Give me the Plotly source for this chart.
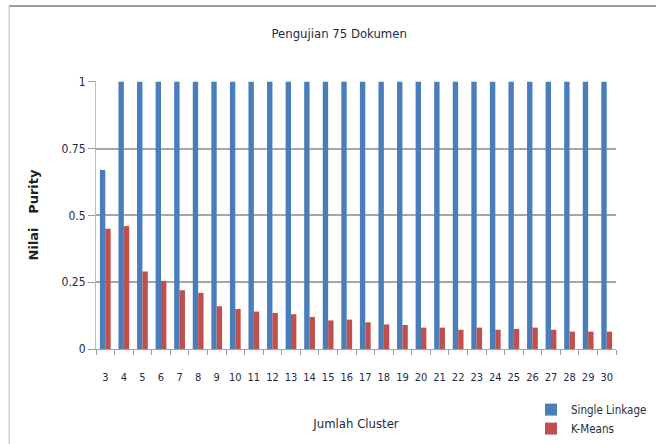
import plotly.graph_objects as go

clusters = [str(k) for k in range(3, 31)]
single_linkage = [0.67] + [1.0] * 27
k_means = [0.45, 0.46, 0.29, 0.255, 0.22, 0.21, 0.16, 0.15, 0.14, 0.135,
           0.13, 0.12, 0.107, 0.11, 0.1, 0.092, 0.09, 0.08, 0.08, 0.072,
           0.08, 0.072, 0.075, 0.08, 0.072, 0.065, 0.065, 0.065]
y_ticks = [0, 0.25, 0.5, 0.75, 1]
y_labels = ["0", "0.25", "0.5", "0.75", "1"]

font_family = "DejaVu Sans Condensed, Liberation Sans Narrow, sans-serif"
text_color = "#1f2a44"

fig = go.Figure()
fig.add_trace(go.Bar(x=clusters, y=single_linkage, name="Single Linkage",
                     marker=dict(color="#4a7ebb", line=dict(width=0))))
fig.add_trace(go.Bar(x=clusters, y=k_means, name="K-Means",
                     marker=dict(color="#c0504d", line=dict(width=0))))

fig.update_layout(
    width=656, height=444,
    margin=dict(l=96, r=40, t=81, b=95, autoexpand=False),
    paper_bgcolor="white", plot_bgcolor="white",
    barmode="group", bargap=0.42, bargroupgap=0,
    font=dict(family=font_family, size=11, color=text_color),
    title=dict(text="Pengujian 75 Dokumen", x=0.517, xanchor="center",
               y=0.925, yanchor="middle",
               font=dict(family=font_family, size=13, color=text_color)),
    legend=dict(x=0.8365, y=-0.172, xanchor="left", yanchor="top",
                font=dict(size=11.5), itemwidth=30, tracegroupgap=0,
                bgcolor="rgba(0,0,0,0)"),
    showlegend=True,
)

fig.update_xaxes(
    type="category", tickson="boundaries", ticks="outside", ticklen=5,
    tickcolor="#7f9fc8", showline=True, linecolor="#8faad0", linewidth=1,
    showgrid=False, tickangle=0, tickfont=dict(size=11),
    ticklabelstandoff=18,
    title=dict(text="Jumlah Cluster", standoff=35,
               font=dict(size=13, color=text_color)),
)
fig.update_yaxes(
    range=[0, 1.003], tickvals=y_ticks, ticktext=y_labels,
    ticks="outside", ticklen=7, tickcolor="#999999",
    showline=True, linecolor="#bbbbbb", linewidth=1,
    showgrid=True, gridcolor="#a6a6a6", gridwidth=1.5, zeroline=False,
    tickfont=dict(size=12),
    title=dict(text="<b>Nilai   Purity</b>", standoff=20,
               font=dict(family="DejaVu Sans, sans-serif", size=13,
                         color="#222222")),
)

# chart border (top and left edges are visible in the original)
fig.add_shape(type="line", xref="paper", yref="paper",
              x0=-0.167, x1=1.08, y0=1.28, y1=1.28,
              line=dict(color="#999999", width=2))
fig.add_shape(type="line", xref="paper", yref="paper",
              x0=-0.167, x1=-0.167, y0=1.28, y1=-0.36,
              line=dict(color="#cccccc", width=1.5))

fig.write_html("out.html", config={"displayModeBar": False},
               post_script="document.body.style.margin='0';")
